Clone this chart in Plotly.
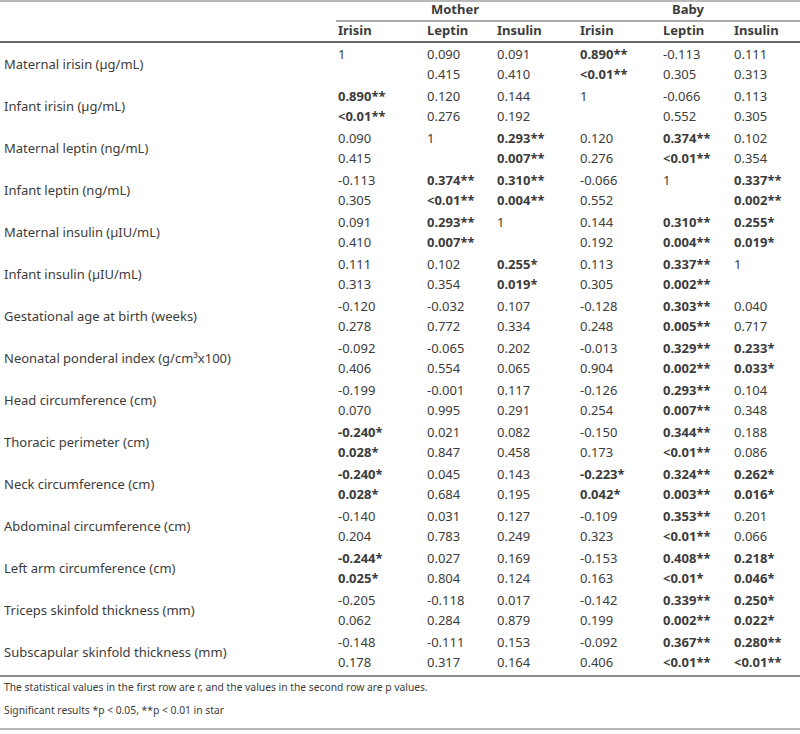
import plotly.graph_objects as go

row_labels = [
    "Maternal irisin (µg/mL)", "Infant irisin (µg/mL)", "Maternal leptin (ng/mL)",
    "Infant leptin (ng/mL)", "Maternal insulin (µIU/mL)", "Infant insulin (µIU/mL)",
    "Gestational age at birth (weeks)", "Neonatal ponderal index (g/cm³x100)",
    "Head circumference (cm)", "Thoracic perimeter (cm)", "Neck circumference (cm)",
    "Abdominal circumference (cm)", "Left arm circumference (cm)",
    "Triceps skinfold thickness (mm)", "Subscapular skinfold thickness (mm)",
]
groups = ["Mother", "Baby"]
col_headers = ["Irisin", "Leptin", "Insulin", "Irisin", "Leptin", "Insulin"]

# r values (first row of each pair) per column
r_m_irisin = ["1", "0.890**", "0.090", "-0.113", "0.091", "0.111", "-0.120", "-0.092", "-0.199", "-0.240*", "-0.240*", "-0.140", "-0.244*", "-0.205", "-0.148"]
r_m_leptin = ["0.090", "0.120", "1", "0.374**", "0.293**", "0.102", "-0.032", "-0.065", "-0.001", "0.021", "0.045", "0.031", "0.027", "-0.118", "-0.111"]
r_m_insulin = ["0.091", "0.144", "0.293**", "0.310**", "1", "0.255*", "0.107", "0.202", "0.117", "0.082", "0.143", "0.127", "0.169", "0.017", "0.153"]
r_b_irisin = ["0.890**", "1", "0.120", "-0.066", "0.144", "0.113", "-0.128", "-0.013", "-0.126", "-0.150", "-0.223*", "-0.109", "-0.153", "-0.142", "-0.092"]
r_b_leptin = ["-0.113", "-0.066", "0.374**", "1", "0.310**", "0.337**", "0.303**", "0.329**", "0.293**", "0.344**", "0.324**", "0.353**", "0.408**", "0.339**", "0.367**"]
r_b_insulin = ["0.111", "0.113", "0.102", "0.337**", "0.255*", "1", "0.040", "0.233*", "0.104", "0.188", "0.262*", "0.201", "0.218*", "0.250*", "0.280**"]

# p values (second row of each pair) per column
p_m_irisin = ["", "<0.01**", "0.415", "0.305", "0.410", "0.313", "0.278", "0.406", "0.070", "0.028*", "0.028*", "0.204", "0.025*", "0.062", "0.178"]
p_m_leptin = ["0.415", "0.276", "", "<0.01**", "0.007**", "0.354", "0.772", "0.554", "0.995", "0.847", "0.684", "0.783", "0.804", "0.284", "0.317"]
p_m_insulin = ["0.410", "0.192", "0.007**", "0.004**", "", "0.019*", "0.334", "0.065", "0.291", "0.458", "0.195", "0.249", "0.124", "0.879", "0.164"]
p_b_irisin = ["<0.01**", "", "0.276", "0.552", "0.192", "0.305", "0.248", "0.904", "0.254", "0.173", "0.042*", "0.323", "0.163", "0.199", "0.406"]
p_b_leptin = ["0.305", "0.552", "<0.01**", "", "0.004**", "0.002**", "0.005**", "0.002**", "0.007**", "<0.01**", "0.003**", "<0.01**", "<0.01*", "0.002**", "<0.01**"]
p_b_insulin = ["0.313", "0.305", "0.354", "0.002**", "0.019*", "", "0.717", "0.033*", "0.348", "0.086", "0.016*", "0.066", "0.046*", "0.022*", "<0.01**"]

footnotes = [
    "The statistical values in the first row are r, and the values in the second row are p values.",
    "Significant results *p < 0.05, **p < 0.01 in star",
]

r_cols = [r_m_irisin, r_m_leptin, r_m_insulin, r_b_irisin, r_b_leptin, r_b_insulin]
p_cols = [p_m_irisin, p_m_leptin, p_m_insulin, p_b_irisin, p_b_leptin, p_b_insulin]

# ---- layout constants (pixels) ----
W, H = 800, 734
col_x = [338, 427, 497, 580, 663, 734]
group_x = [455, 688]
label_x = 4
row0 = 66
pitch = 42
sub = 10
FONT = "Noto Sans"
FS = 13
TXT = "#3c3c3c"

def fmt(s):
    s2 = s.replace("<", "&lt;")
    if "*" in s:
        return "<b>" + s2 + "</b>"
    return s2

fig = go.Figure()

n = len(row_labels)
fig.add_trace(go.Scatter(
    x=[label_x] * n, y=[row0 + pitch * i for i in range(n)],
    mode="text", text=row_labels, textposition="middle right",
    textfont=dict(family=FONT, size=FS, color=TXT), hoverinfo="skip", showlegend=False))

for j in range(6):
    fig.add_trace(go.Scatter(
        x=[col_x[j]] * n, y=[row0 - sub + pitch * i for i in range(n)],
        mode="text", text=[fmt(v) for v in r_cols[j]], textposition="middle right",
        textfont=dict(family=FONT, size=FS, color=TXT), hoverinfo="skip", showlegend=False))
    fig.add_trace(go.Scatter(
        x=[col_x[j]] * n, y=[row0 + sub + pitch * i for i in range(n)],
        mode="text", text=[fmt(v) for v in p_cols[j]], textposition="middle right",
        textfont=dict(family=FONT, size=FS, color=TXT), hoverinfo="skip", showlegend=False))

fig.add_trace(go.Scatter(
    x=col_x, y=[32] * 6, mode="text", text=["<b>%s</b>" % h for h in col_headers],
    textposition="middle right", textfont=dict(family=FONT, size=FS, color=TXT),
    hoverinfo="skip", showlegend=False))
fig.add_trace(go.Scatter(
    x=group_x, y=[11] * 2, mode="text", text=["<b>%s</b>" % g for g in groups],
    textposition="middle center", textfont=dict(family=FONT, size=FS, color=TXT),
    hoverinfo="skip", showlegend=False))
fig.add_trace(go.Scatter(
    x=[label_x] * 2, y=[688, 711], mode="text", text=[f.replace("<", "&lt;") for f in footnotes],
    textposition="middle right", textfont=dict(family=FONT, size=10.3, color=TXT),
    hoverinfo="skip", showlegend=False))

shapes = [
    dict(type="line", x0=0, x1=W, y0=1, y1=1, line=dict(color="#a0a0a0", width=1.5)),
    dict(type="line", x0=336, x1=W, y0=21, y1=21, line=dict(color="#555555", width=1)),
    dict(type="line", x0=0, x1=W, y0=42, y1=42, line=dict(color="#666666", width=2)),
    dict(type="line", x0=0, x1=W, y0=676, y1=676, line=dict(color="#666666", width=1.5)),
    dict(type="line", x0=0, x1=W, y0=729, y1=729, line=dict(color="#a0a0a0", width=1.5)),
]
for s in shapes:
    s["xref"] = "x"
    s["yref"] = "y"

fig.update_layout(
    width=W, height=H, margin=dict(l=0, r=0, t=0, b=0),
    paper_bgcolor="white", plot_bgcolor="white", shapes=shapes,
    xaxis=dict(range=[0, W], visible=False, fixedrange=True),
    yaxis=dict(range=[H, 0], visible=False, fixedrange=True),
)
fig.write_html("out.html", config={"displayModeBar": False},
               post_script="document.body.style.margin='0';")
